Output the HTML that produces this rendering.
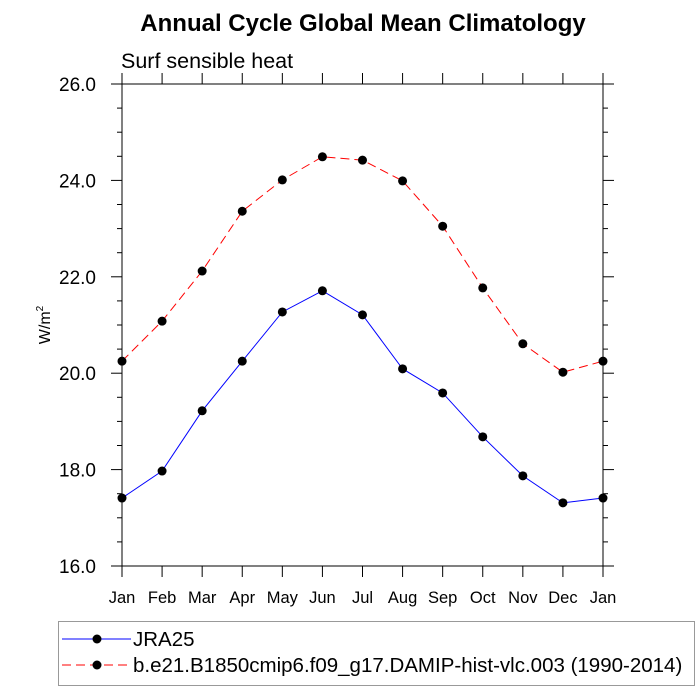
<!DOCTYPE html>
<html><head><meta charset="utf-8"><style>
body{margin:0;background:#fff;}
svg{display:block;font-family:"Liberation Sans",Arial,sans-serif;}
</style></head><body>
<svg id="chart" width="700" height="700">
<text x="363" y="31" text-anchor="middle" font-size="24" font-weight="bold">Annual Cycle Global Mean Climatology</text>
<text x="121" y="68" font-size="21.5">Surf sensible heat</text>
<text x="0" y="0" font-size="16" transform="translate(50,325) rotate(-90)" text-anchor="middle">W/m<tspan font-size="10" dy="-7">2</tspan></text>
<g id="axes"></g>
<g id="series"></g>
<g id="legend"></g>
</svg>
<script>
const months = ["Jan","Feb","Mar","Apr","May","Jun","Jul","Aug","Sep","Oct","Nov","Dec","Jan"];
const jra25 = [17.41,17.97,19.22,20.25,21.27,21.71,21.21,20.09,19.59,18.68,17.87,17.31,17.41];
const model = [20.25,21.08,22.12,23.36,24.01,24.49,24.42,23.99,23.05,21.77,20.61,20.02,20.25];
const yTicks = [16.0,18.0,20.0,22.0,24.0,26.0];
const legendLabels = ["JRA25","b.e21.B1850cmip6.f09_g17.DAMIP-hist-vlc.003 (1990-2014)"];

const NS="http://www.w3.org/2000/svg";
const L=122,R=603,T=84,B=566,yMin=16,yMax=26;
const xs=i=>L+(R-L)*i/(months.length-1);
const ys=v=>B-(v-yMin)/(yMax-yMin)*(B-T);
function mk(tag,attrs,parent){const e=document.createElementNS(NS,tag);for(const k in attrs)e.setAttribute(k,attrs[k]);parent.appendChild(e);return e;}
const ax=document.getElementById('axes');
const frame=mk('rect',{x:L,y:T,width:R-L,height:B-T,fill:'none',stroke:'#000','stroke-width':1},ax);


for(let v=yMin;v<=yMax+1e-9;v+=0.5){
  const major=Math.abs(v-Math.round(v/2)*2)<1e-9;
  const len=major?11:5;
  const y=ys(v);
  mk('line',{x1:L-len,x2:L,y1:y,y2:y,stroke:'#000'},ax);
  mk('line',{x1:R,x2:R+len,y1:y,y2:y,stroke:'#000'},ax);
}
yTicks.forEach(v=>{
  const t=mk('text',{x:L-26,y:ys(v)+7,'text-anchor':'end','font-size':19},ax);
  t.textContent=v.toFixed(1);
  
  
});
months.forEach((m,i)=>{
  const x=xs(i);
  mk('line',{x1:x,x2:x,y1:B,y2:B+11,stroke:'#000'},ax);
  mk('line',{x1:x,x2:x,y1:T-11,y2:T,stroke:'#000'},ax);
  const t=mk('text',{x:x,y:B+37,'text-anchor':'middle','font-size':16.5},ax);
  t.textContent=m;
  
  
});
const sg=document.getElementById('series');
function drawSeries(vals,color,dash,name){
  const p=mk('polyline',{points:vals.map((v,i)=>xs(i)+','+ys(v)).join(' '),fill:'none',stroke:color,'stroke-width':1,'stroke-dasharray':dash},sg);
  
  
  vals.forEach((v,i)=>{
    const c=mk('circle',{cx:xs(i),cy:ys(v),r:4.5,fill:'#000'},sg);
    
    
  });
}
drawSeries(jra25,'#0000ff','none','jra25');
drawSeries(model,'#ff0000','9,5','model');
const lg=document.getElementById('legend');
const box=mk('rect',{x:58.5,y:621.5,width:636,height:64,fill:'#fff',stroke:'#999'},lg);


[['#0000ff','none'],['#ff0000','9,5']].forEach((s,i)=>{
  const y=639+i*26;
  mk('line',{x1:62,x2:131,y1:y,y2:y,stroke:s[0],'stroke-dasharray':s[1]},lg);
  mk('circle',{cx:97,cy:y,r:4.5,fill:'#000'},lg);
  const t=mk('text',{x:133,y:y+7,'font-size':20.5},lg);
  t.textContent=legendLabels[i];
  
  
});
</script>
</body></html>
